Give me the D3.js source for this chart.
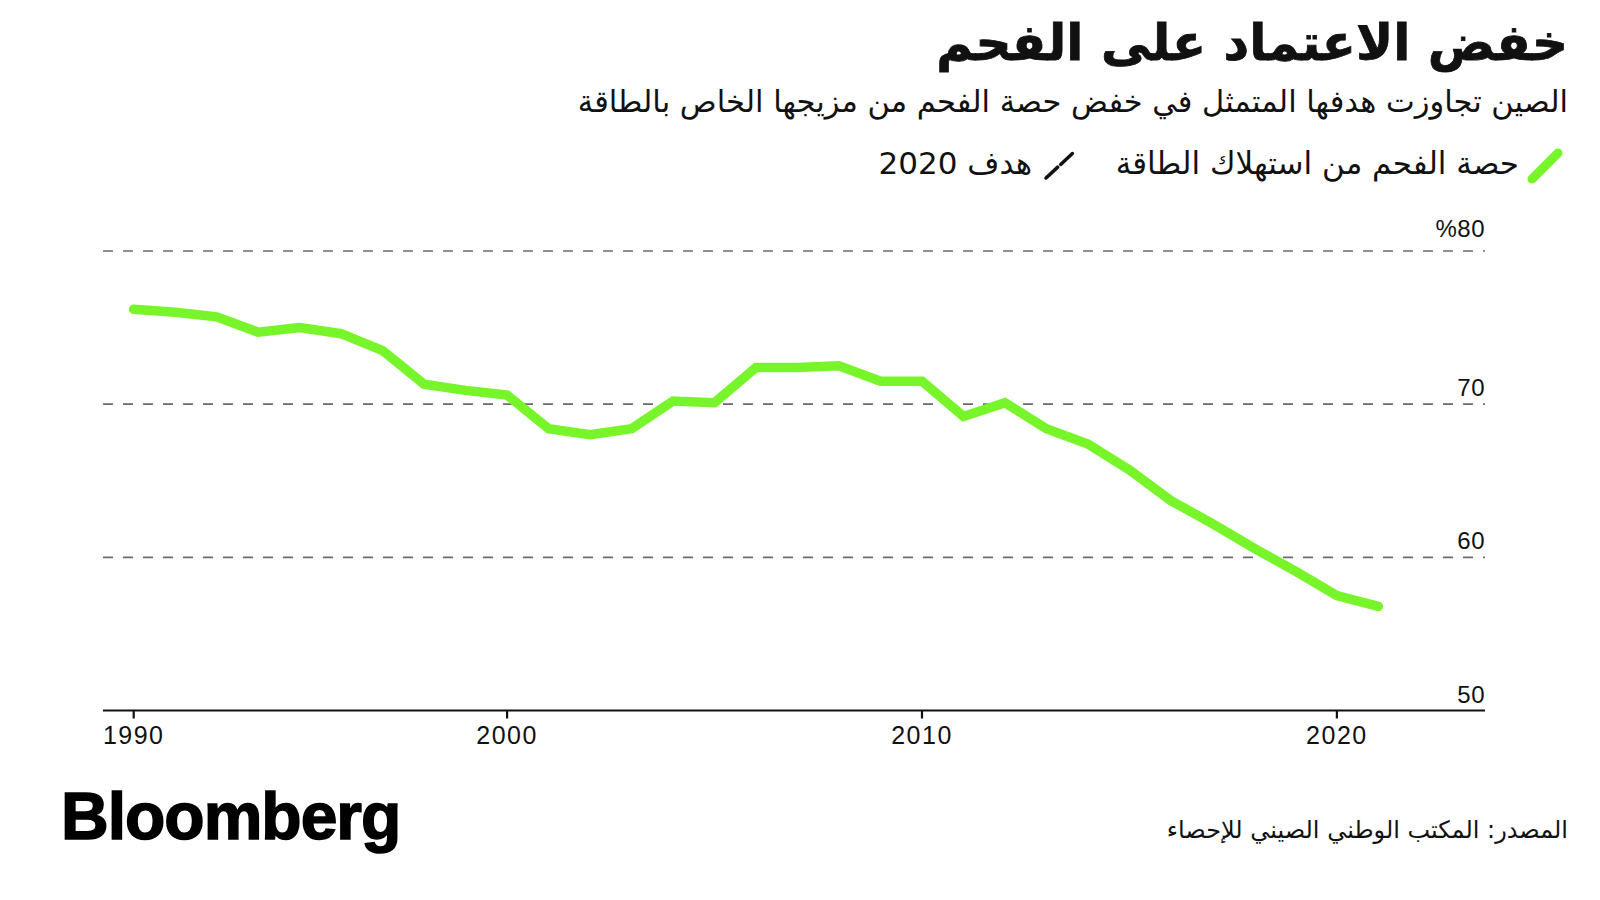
<!DOCTYPE html>
<html>
<head>
<meta charset="utf-8">
<script src="https://cdn.jsdelivr.net/npm/d3@7"></script>
<style>
  html, body { margin: 0; padding: 0; background: #ffffff; }
  svg { display: block; }
  .ar { font-family: "DejaVu Sans", "Noto Sans", sans-serif; }
  .num { font-family: "Liberation Sans", Arial, sans-serif; }
</style>
</head>
<body>
<svg id="chart" width="1600" height="900"></svg>
<script>
// ---------- DATA ----------
const years = [1990,1991,1992,1993,1994,1995,1996,1997,1998,1999,
               2000,2001,2002,2003,2004,2005,2006,2007,2008,2009,
               2010,2011,2012,2013,2014,2015,2016,2017,2018,2019,2020];
const coalShare = [76.2,76.0,75.7,74.7,75.0,74.6,73.5,71.3,70.9,70.6,
                   68.4,68.0,68.4,70.2,70.1,72.4,72.4,72.5,71.5,71.5,
                   69.2,70.1,68.4,67.4,65.7,63.7,62.2,60.6,59.1,57.5,56.8];
const xTickYears = [1990, 2000, 2010, 2020];
const yTickValues = [50, 60, 70, 80];

const titleText = "خفض الاعتماد على الفحم";
const subtitleText = "الصين تجاوزت هدفها المتمثل في خفض حصة الفحم من مزيجها الخاص بالطاقة";
const legendSeries = "حصة الفحم من استهلاك الطاقة";
const legendTarget = "هدف 2020";
const sourceText = "المصدر: المكتب الوطني الصيني للإحصاء";
const logoText = "Bloomberg";

(function () {
// ---------- LAYOUT ----------
const svg = d3.select("#chart");
const plotLeft = 103, plotRight = 1485, plotTop = 251, plotBottom = 710.5;
const GREEN = "#78f52a";

// data points are placed at the end of each year
const x = d3.scaleLinear().domain([1990.26, 2023.57]).range([plotLeft, plotRight]);
const y = d3.scaleLinear().domain([50, 80]).range([plotBottom, plotTop]);
const xPos = yr => x(yr + 1);
const firstX = xPos(years[0]);
const tickX = yr => Math.max(x(yr), firstX);

// ---------- GRID ----------
svg.append("g").selectAll("line")
  .data(yTickValues.filter(v => v > 50))
  .join("line")
  .attr("x1", plotLeft).attr("x2", plotRight)
  .attr("y1", d => y(d)).attr("y2", d => y(d))
  .attr("stroke", "#6b6b6b")
  .attr("stroke-width", 1.6)
  .attr("stroke-dasharray", "10,10");

// y labels
svg.append("g").selectAll("text")
  .data(yTickValues)
  .join("text")
  .attr("class", "num")
  .attr("x", plotRight)
  .attr("y", d => y(d) - (d === 80 ? 14 : 8))
  .attr("text-anchor", "end")
  .attr("font-size", 24)
  .attr("letter-spacing", 0.5)
  .attr("fill", "#111")
  .text(d => d === 80 ? "%" + d : d);

// ---------- X AXIS ----------
svg.append("line")
  .attr("x1", plotLeft).attr("x2", plotRight)
  .attr("y1", plotBottom).attr("y2", plotBottom)
  .attr("stroke", "#111").attr("stroke-width", 2.2);

const xt = svg.append("g").selectAll("g")
  .data(xTickYears).join("g")
  .attr("transform", d => `translate(${tickX(d)},${plotBottom})`);
xt.append("line").attr("y1", 0).attr("y2", 8)
  .attr("stroke", "#111").attr("stroke-width", 2.2);
xt.append("text")
  .attr("class", "num")
  .attr("y", 33)
  .attr("text-anchor", "middle")
  .attr("font-size", 25)
  .attr("letter-spacing", 1.5)
  .attr("fill", "#111")
  .text(d => d);

// ---------- LINE ----------
const lineGen = d3.line()
  .x((d, i) => xPos(years[i]))
  .y(d => y(d));
svg.append("path")
  .datum(coalShare)
  .attr("d", lineGen)
  .attr("fill", "none")
  .attr("stroke", GREEN)
  .attr("stroke-width", 9.5)
  .attr("stroke-linecap", "round")
  .attr("stroke-linejoin", "miter");

// ---------- TITLES ----------
svg.append("text").attr("class", "ar")
  .attr("x", 1568).attr("y", 60)
  .attr("direction", "rtl").attr("text-anchor", "start")
  .attr("font-size", 50).attr("font-weight", "bold").attr("fill", "#111")
  .attr("stroke", "#111").attr("stroke-width", 0.8)
  .text(titleText);

svg.append("text").attr("class", "ar")
  .attr("x", 1568).attr("y", 112)
  .attr("direction", "rtl").attr("text-anchor", "start")
  .attr("font-size", 30.5).attr("fill", "#111")
  .text(subtitleText);

// ---------- LEGEND ----------
svg.append("line")
  .attr("x1", 1532).attr("y1", 179).attr("x2", 1558).attr("y2", 153)
  .attr("stroke", GREEN).attr("stroke-width", 9).attr("stroke-linecap", "round");
svg.append("text").attr("class", "ar")
  .attr("x", 1519).attr("y", 174)
  .attr("direction", "rtl").attr("text-anchor", "start")
  .attr("font-size", 31).attr("fill", "#111")
  .text(legendSeries);

svg.append("line")
  .attr("x1", 1046).attr("y1", 178).attr("x2", 1073).attr("y2", 153)
  .attr("stroke", "#111").attr("stroke-width", 3.5).attr("stroke-linecap", "round")
  .attr("stroke-dasharray", "16,4,16");
svg.append("text").attr("class", "ar")
  .attr("x", 1032).attr("y", 174)
  .attr("direction", "rtl").attr("text-anchor", "start")
  .attr("font-size", 31).attr("fill", "#111")
  .text(legendTarget);

// ---------- FOOTER ----------
svg.append("text")
  .attr("x", 61).attr("y", 839)
  .attr("font-family", "'Liberation Sans', Arial, sans-serif")
  .attr("font-weight", "bold").attr("font-size", 66)
  .attr("letter-spacing", -1)
  .attr("fill", "#000").attr("stroke", "#000").attr("stroke-width", 1.5)
  .text(logoText);

svg.append("text").attr("class", "ar")
  .attr("x", 1568).attr("y", 838)
  .attr("direction", "rtl").attr("text-anchor", "start")
  .attr("font-size", 24).attr("fill", "#111")
  .text(sourceText);
})();
</script>
</body>
</html>
